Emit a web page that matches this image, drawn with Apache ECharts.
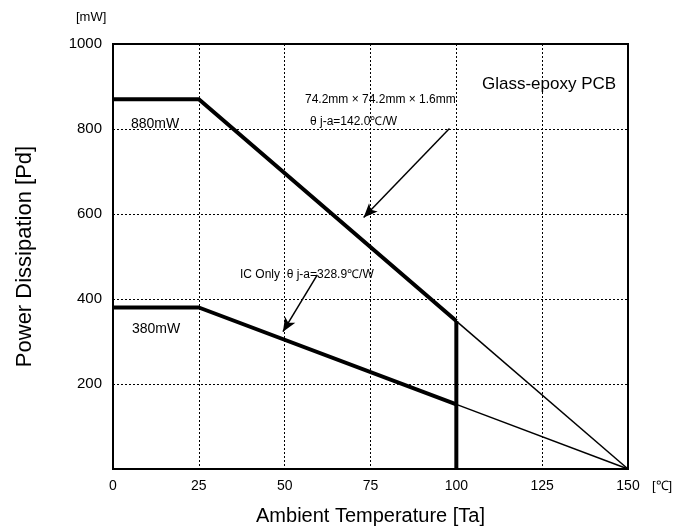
<!DOCTYPE html>
<html><head><meta charset="utf-8">
<script src="https://cdn.jsdelivr.net/npm/echarts@6/dist/echarts.min.js"></script>
<style>html,body{margin:0;padding:0;background:#fff}#c{width:676px;height:531px}</style>
</head><body><div id="c"></div>
<script>
// Data
var xTicks = [0, 25, 50, 75, 100, 125, 150];
var yTicks = [200, 400, 600, 800, 1000];
// PCB mounted (thick part up to cutoff, thin extension to 150)
var pcbThick = [[0, 870], [25, 870], [100, 348]];
var pcbThin = [[100, 348], [150, 0]];
var pcbCut = [[100, 348], [100, 0]];
// IC only
var icThick = [[0, 380], [25, 380], [100, 152]];
var icThin = [[100, 152], [150, 0]];
// Arrows (start -> end, data coords)
var arrowPcb = [[98, 801], [73, 592]];
var arrowIc = [[59.5, 457], [49.5, 323]];

var F = 'Liberation Sans, Arial, sans-serif';
var chart = echarts.init(document.getElementById('c'), null, {renderer: 'canvas'});
function line(data, w) {
  return {type: 'line', data: data, symbol: 'none', silent: true,
    lineStyle: {color: '#000', width: w}, z: 5, animation: false};
}
function arrow(pts) {
  return {type: 'line', data: [], silent: true, animation: false,
    markLine: {silent: true, symbol: ['none', 'arrow'], symbolSize: [9, 14], label: {show: false},
      lineStyle: {color: '#000', width: 1.5, type: 'solid'},
      data: [[{coord: pts[0]}, {coord: pts[1]}]]}};
}
chart.setOption({
  animation: false,
  backgroundColor: '#fff',
  grid: {left: 113, top: 44, right: 48, bottom: 60, show: true, borderColor: '#000', borderWidth: 2},
  xAxis: {type: 'value', min: 0, max: 150, interval: 25,
    axisLine: {show: true, lineStyle: {color: '#000', width: 2}},
    axisTick: {show: false},
    axisLabel: {color: '#000', fontSize: 14, fontFamily: F, margin: 10},
    splitLine: {show: true, lineStyle: {color: '#000', type: [2, 2], width: 1}},
    name: 'Ambient Temperature [Ta]', nameLocation: 'middle', nameGap: 37,
    nameTextStyle: {color: '#000', fontSize: 20, fontFamily: F}},
  yAxis: {type: 'value', min: 0, max: 1000, interval: 200,
    axisLine: {show: true, lineStyle: {color: '#000', width: 2}},
    axisTick: {show: false},
    axisLabel: {color: '#000', fontSize: 15, fontFamily: F, margin: 11,
      formatter: function (v) { return yTicks.indexOf(v) >= 0 ? String(v) : ''; }},
    splitLine: {show: true, lineStyle: {color: '#000', type: [2, 2], width: 1}},
    name: 'Power Dissipation [Pd]', nameLocation: 'middle', nameGap: 77, nameRotate: 90,
    nameTextStyle: {color: '#000', fontSize: 22, fontFamily: F}},
  graphic: [
    {type: 'text', left: 76, top: 11, style: {text: '[mW]', font: '13px ' + F, fill: '#000'}},
    {type: 'text', left: 652, top: 480, style: {text: '[℃]', font: '13px ' + F, fill: '#000'}},
    {type: 'text', left: 131, top: 117, style: {text: '880mW', font: '14px ' + F, fill: '#000'}},
    {type: 'text', left: 132, top: 322, style: {text: '380mW', font: '14px ' + F, fill: '#000'}},
    {type: 'text', left: 482, top: 76, style: {text: 'Glass-epoxy PCB', font: '17px ' + F, fill: '#000'}},
    {type: 'text', left: 305, top: 94, style: {text: '74.2mm × 74.2mm × 1.6mm', font: '12px ' + F, fill: '#000'}},
    {type: 'text', left: 310, top: 116, style: {text: 'θ j-a=142.0℃/W', font: '12px ' + F, fill: '#000'}},
    {type: 'text', left: 240, top: 269, style: {text: 'IC Only  θ j-a=328.9℃/W', font: '12px ' + F, fill: '#000'}}
  ],
  series: [
    line(pcbThick, 4), line(pcbThin, 1.5), line(pcbCut, 4),
    line(icThick, 4), line(icThin, 1.5),
    arrow(arrowPcb), arrow(arrowIc)
  ]
});
</script></body></html>
